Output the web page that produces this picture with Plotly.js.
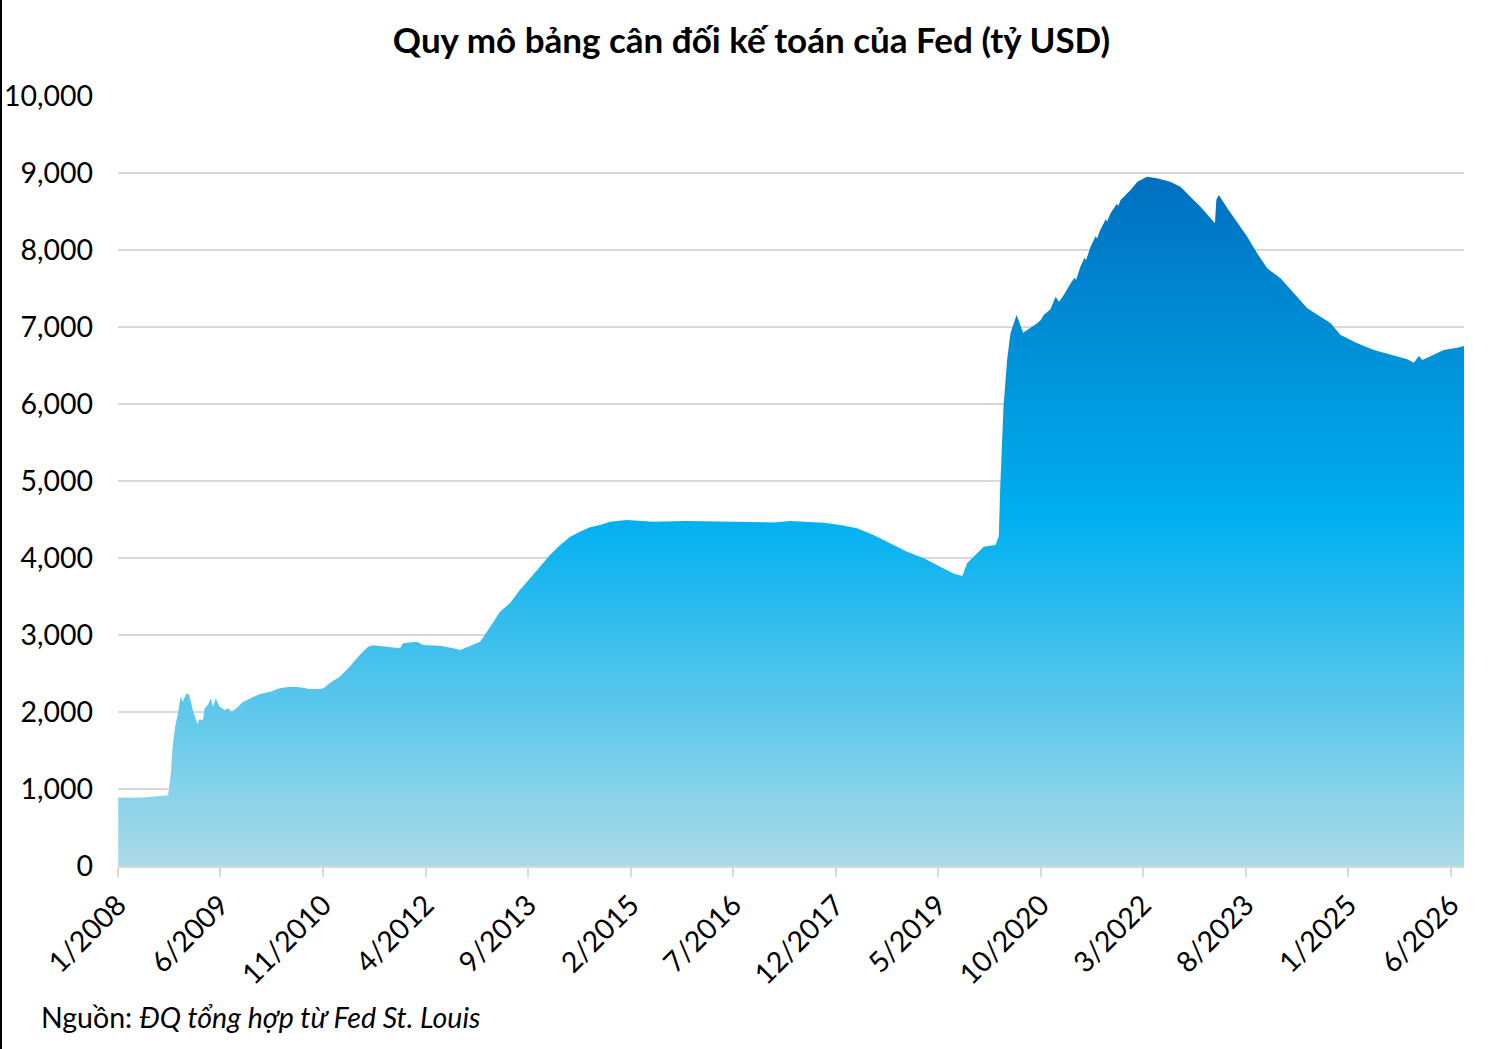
<!DOCTYPE html>
<html>
<head>
<meta charset="utf-8">
<script src="https://cdn.plot.ly/plotly-3.0.1.min.js"></script>
<style>
  html, body { margin: 0; padding: 0; background: #fff; }
  body { border-left: 2px solid #000; width: 1499px; height: 1049px; overflow: hidden; }
  #chart { width: 1499px; height: 1049px; }
</style>
</head>
<body>
<div id="chart"></div>
<script>
'use strict';
/* Fed balance sheet, billions USD */
var dates = [
  '2008-01-02', '2008-03-05', '2008-05-07', '2008-07-02', '2008-09-10', '2008-09-24',
  '2008-10-01', '2008-10-15', '2008-10-29', '2008-11-12', '2008-11-22', '2008-12-12',
  '2008-12-25', '2009-01-15', '2009-02-05', '2009-02-15', '2009-03-05', '2009-03-13',
  '2009-03-30', '2009-04-12', '2009-04-25', '2009-05-08', '2009-05-28', '2009-06-23',
  '2009-07-10', '2009-07-27', '2009-08-21', '2009-09-24', '2009-10-28', '2009-12-17',
  '2010-02-07', '2010-03-27', '2010-05-17', '2010-07-06', '2010-08-26', '2010-10-16',
  '2010-11-02', '2010-12-14', '2011-01-25', '2011-03-15', '2011-05-05', '2011-06-16',
  '2011-07-11', '2011-09-17', '2011-11-24', '2011-12-10', '2012-02-17', '2012-03-20',
  '2012-06-13', '2012-08-19', '2012-09-22', '2012-11-12', '2013-01-02', '2013-02-05',
  '2013-04-12', '2013-06-01', '2013-07-21', '2013-09-11', '2013-11-01', '2013-12-20',
  '2014-02-10', '2014-04-01', '2014-05-20', '2014-07-10', '2014-08-30', '2014-10-19',
  '2015-01-12', '2015-05-25', '2015-11-11', '2016-04-27', '2016-08-06', '2016-10-13',
  '2017-01-22', '2017-04-15', '2017-10-01', '2017-12-24', '2018-03-18', '2018-06-10',
  '2018-09-03', '2018-11-26', '2019-02-19', '2019-05-12', '2019-07-18', '2019-09-01',
  '2019-09-25', '2019-10-28', '2019-12-18', '2020-02-15', '2020-03-03', '2020-03-10',
  '2020-03-27', '2020-04-14', '2020-05-01', '2020-06-01', '2020-07-04', '2020-08-10',
  '2020-09-13', '2020-10-01', '2020-10-16', '2020-11-19', '2020-12-15', '2021-01-01',
  '2021-01-25', '2021-03-01', '2021-03-20', '2021-03-28', '2021-04-19', '2021-05-10',
  '2021-05-18', '2021-06-09', '2021-07-05', '2021-07-12', '2021-07-28', '2021-08-25',
  '2021-09-01', '2021-09-18', '2021-10-20', '2021-10-27', '2021-11-08', '2021-12-28',
  '2022-02-01', '2022-03-21', '2022-05-10', '2022-07-16',
  '2022-09-06', '2022-10-26', '2022-12-16', '2023-02-05', '2023-02-27', '2023-03-06',
  '2023-03-18', '2023-05-01', '2023-06-19', '2023-08-09', '2023-09-28', '2023-11-18',
  '2024-01-24', '2024-04-01', '2024-06-07', '2024-08-13', '2024-10-03', '2024-11-22',
  '2025-02-15', '2025-05-09', '2025-08-01', '2025-10-25', '2025-11-27', '2025-12-22',
  '2026-01-09', '2026-03-07', '2026-04-27', '2026-07-04', '2026-08-07'
];
var balance = [
  891, 885, 890, 905, 920, 1200,
  1500, 1810, 1970, 2198, 2134, 2242,
  2220, 2004, 1844, 1905, 1896, 2048,
  2091, 2177, 2069, 2177, 2069, 2026,
  2048, 2004, 2048, 2134, 2177, 2233,
  2263, 2307, 2329, 2320, 2298, 2298,
  2310, 2394, 2459, 2589, 2740, 2848,
  2866, 2848, 2827, 2892, 2913, 2870,
  2861, 2827, 2805, 2857, 2913, 3043,
  3303, 3411, 3584, 3736, 3887, 4039,
  4169, 4277, 4342, 4398, 4429, 4472,
  4494, 4472, 4481, 4472, 4461, 4459,
  4461, 4481, 4459, 4429, 4385, 4299,
  4190, 4082, 3996, 3887, 3800, 3766,
  3931, 4017, 4147, 4169, 4277, 4883,
  5965, 6571, 6918, 7156, 6926, 6990,
  7048, 7091, 7156, 7230, 7394, 7329,
  7416, 7567, 7640, 7610, 7784, 7900,
  7870, 8043, 8180, 8150, 8260, 8400,
  8370, 8476, 8600, 8570, 8649, 8779,
  8887, 8952, 8931, 8887,
  8822, 8692, 8562, 8411, 8346, 8649,
  8714, 8541, 8368, 8173, 7957, 7762,
  7632, 7437, 7242, 7134, 7048, 6896,
  6788, 6701, 6636, 6580, 6537, 6623,
  6571, 6636, 6701, 6731, 6753
];

var tick_vals = ['2008-01-01', '2009-06-01', '2010-11-01', '2012-04-01', '2013-09-01',
  '2015-02-01', '2016-07-01', '2017-12-01', '2019-05-01', '2020-10-01',
  '2022-03-01', '2023-08-01', '2025-01-01', '2026-06-01'];
var tick_text = ['1/2008', '6/2009', '11/2010', '4/2012', '9/2013', '2/2015', '7/2016',
  '12/2017', '5/2019', '10/2020', '3/2022', '8/2023', '1/2025', '6/2026'];
var y_ticks = [0, 1000, 2000, 3000, 4000, 5000, 6000, 7000, 8000, 9000, 10000];

var area = [
{
  x: dates,
  y: balance,
  type: 'scatter',
  mode: 'lines',
  fill: 'tozeroy',
  line: { width: 0, color: '#00b0f0' },
  fillgradient: {
    type: 'vertical',
    start: 0,
    stop: 8950,
    colorscale: [[0, '#acdbe8'], [0.5, '#00b0f0'], [1, '#0070c0']]
  },
  hoverinfo: 'x+y'
}];

var font = 'Lato, "Open Sans", sans-serif';

var layout = {
  width: 1499,
  height: 1049,
  margin: { l: 116, r: 37, t: 96, b: 183 },
  paper_bgcolor: '#fff',
  plot_bgcolor: '#fff',
  showlegend: false,
  font: { family: font, color: '#000', size: 28.5 },
  title: {
    text: '<b>Quy mô bảng cân đối kế toán của Fed (tỷ USD)</b>',
    font: { family: font, size: 35, color: '#000' },
    xref: 'container', x: 0.5, xanchor: 'center',
    yref: 'container', y: 1 - 41 / 1049, yanchor: 'middle'
  },
  xaxis: {
    type: 'date',
    range: ['2008-01-01', '2026-08-07'],
    tickmode: 'array',
    tickvals: tick_vals,
    ticktext: tick_text,
    tickangle: -45,
    tickfont: { family: font, size: 28.5, color: '#000' },
    showgrid: false,
    showline: true,
    linecolor: '#d9d9d9',
    linewidth: 2,
    ticks: 'outside',
    ticklen: 9,
    tickwidth: 2,
    tickcolor: '#d9d9d9',
    zeroline: false,
    fixedrange: true
  },
  yaxis: {
    range: [0, 10000],
    tickmode: 'array',
    tickvals: y_ticks,
    tickformat: ',d',
    tickfont: { family: font, size: 28.5, color: '#000' },
    gridcolor: '#d9d9d9',
    gridwidth: 2,
    showline: false,
    zeroline: false,
    ticks: '',
    ticklabelstandoff: 24,
    fixedrange: true
  },
  annotations: [
  {
    text: 'Nguồn: <i>ĐQ tổng hợp từ Fed St. Louis</i>',
    xref: 'paper', x: (37 - 116) / 1346, xanchor: 'left',
    yref: 'paper', y: -(1017 - 866) / 770, yanchor: 'middle',
    showarrow: false,
    font: { family: font, size: 28.5, color: '#000' }
  }]
};

Plotly.newPlot('chart', area, layout, { displayModeBar: false, staticPlot: true });
</script>
</body>
</html>
